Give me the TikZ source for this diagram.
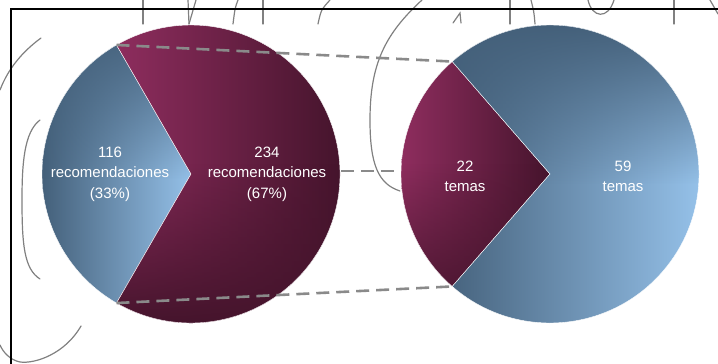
\documentclass[tikz,border=0pt]{standalone}
\usepackage{fontspec}
\setmainfont{Liberation Sans}
\usetikzlibrary{calc,fadings}
\definecolor{redL}{HTML}{8E2D5E}
\definecolor{redD}{HTML}{45142C}
\definecolor{bluD}{HTML}{44607A}
\definecolor{bluL}{HTML}{95C1E9}
\definecolor{dashgray}{HTML}{8A8A8A}
\definecolor{inkgray}{HTML}{808080}
\tikzfading[name=topopaque, top color=transparent!0, bottom color=transparent!100]
\tikzfading[name=botopaque, top color=transparent!100, bottom color=transparent!0]
\begin{document}
\begin{tikzpicture}[x=1pt,y=1pt,
  slice/.style={draw=white, line width=0.4pt},
  series/.style={draw=dashgray, line width=2.6pt, dash pattern=on 13pt off 7pt},
  ink/.style={draw=inkgray, line width=1.2pt, line cap=round},
  frame/.style={draw=black, line width=2pt},
  redbase/.style={left color=redL, right color=redD},
  bluebase/.style={left color=bluD, right color=bluL},
  redshade/.style={fill=redD, path fading=botopaque},
  blueshade/.style={fill=bluD, path fading=topopaque},
  lbl/.style={text=white, font=\fontsize{15}{20.5}\selectfont, align=center, inner sep=0pt},
]
\useasboundingbox (0,0) rectangle (718,364);

% handwritten strokes
\path[ink] (143,364) -- (143,340);
\path[ink] (188,364) -- (189,340);
\path[ink] (196,364) -- (189,340);
\path[ink] (238,364) .. controls (235,356) .. (233,340);
\path[ink] (263,364) -- (263,340);
\path[ink] (330,364) .. controls (321,354) .. (318,340);
\path[ink] (422,364) .. controls (385,330) and (370,300) .. (370,244)
   .. controls (370,200) and (378,180) .. (400,173);
\path[ink] (453,341) -- (460,351) -- (461,341);
\path[ink] (510,364) -- (510,340);
\path[ink] (531,364) .. controls (534,352) .. (535,340);
\path[ink] (588,364) .. controls (592,346) and (608,344) .. (614,364);
\path[ink] (674,364) -- (674,340);
\path[ink] (710,364) -- (718,350);
\path[ink] (41,326) .. controls (22,312) and (8,295) .. (0,274);
\path[ink] (40,244) .. controls (24,232) and (22,200) .. (22,164)
   .. controls (22,120) and (24,95) .. (40,85);
\path[ink] (81,38) .. controls (65,10) and (35,0) .. (20,2)
   .. controls (10,4) and (3,12) .. (0,19);

% frame
\path[frame] (11,0) -- (11,355) -- (718,355);

% pies
\coordinate (c1) at (191,190);
\coordinate (c2) at (550,190);

% pie 1, blue slice
\begin{scope}
  \clip (c1) -- ++(120:149) arc[start angle=120, end angle=240, radius=149] -- cycle;
  \path[bluebase] (42,40) rectangle (192,340);
  \path[blueshade] (42,185) rectangle (192,340);
\end{scope}
\path[slice] (c1) -- ++(120:149) arc[start angle=120, end angle=240, radius=149] -- cycle;
% pie 1, red slice
\begin{scope}
  \clip (c1) -- ++(240:149) arc[start angle=240, end angle=480, radius=149] -- cycle;
  \path[redbase] (116,40) rectangle (341,340);
  \path[redshade] (116,40) rectangle (341,200);
\end{scope}
\path[slice] (c1) -- ++(240:149) arc[start angle=240, end angle=480, radius=149] -- cycle;
% pie 2, red slice
\begin{scope}
  \clip (c2) -- ++(131:149) arc[start angle=131, end angle=229, radius=149] -- cycle;
  \path[redbase] (401,40) rectangle (551,340);
  \path[redshade] (401,40) rectangle (551,200);
\end{scope}
\path[slice] (c2) -- ++(131:149) arc[start angle=131, end angle=229, radius=149] -- cycle;
% pie 2, blue slice
\begin{scope}
  \clip (c2) -- ++(229:149) arc[start angle=229, end angle=491, radius=149] -- cycle;
  \path[bluebase] (440,40) rectangle (700,340);
  \path[blueshade] (401,180) rectangle (700,340);
\end{scope}
\path[slice] (c2) -- ++(229:149) arc[start angle=229, end angle=491, radius=149] -- cycle;

% series lines
\coordinate (a1) at ($(c1)+(120:149)$);
\coordinate (b1) at ($(c1)+(240:149)$);
\coordinate (a2) at ($(c2)+(131:149)$);
\coordinate (b2) at ($(c2)+(229:149)$);
\coordinate (m1) at (341,193);
\coordinate (m2) at (400,193);
\path[series] (a1) -- (a2);
\path[series] (b1) -- (b2);
\path[series] (m1) -- (m2);

% labels
\node[lbl] (t116) at (110,190) {116\\recomendaciones\\(33\%)};
\node[lbl] (t234) at (267,190) {234\\recomendaciones\\(67\%)};
\node[lbl] (t22) at (465,187.5) {22\\temas};
\node[lbl] (t59) at (623,187.5) {59\\temas};
\end{tikzpicture}
\end{document}
